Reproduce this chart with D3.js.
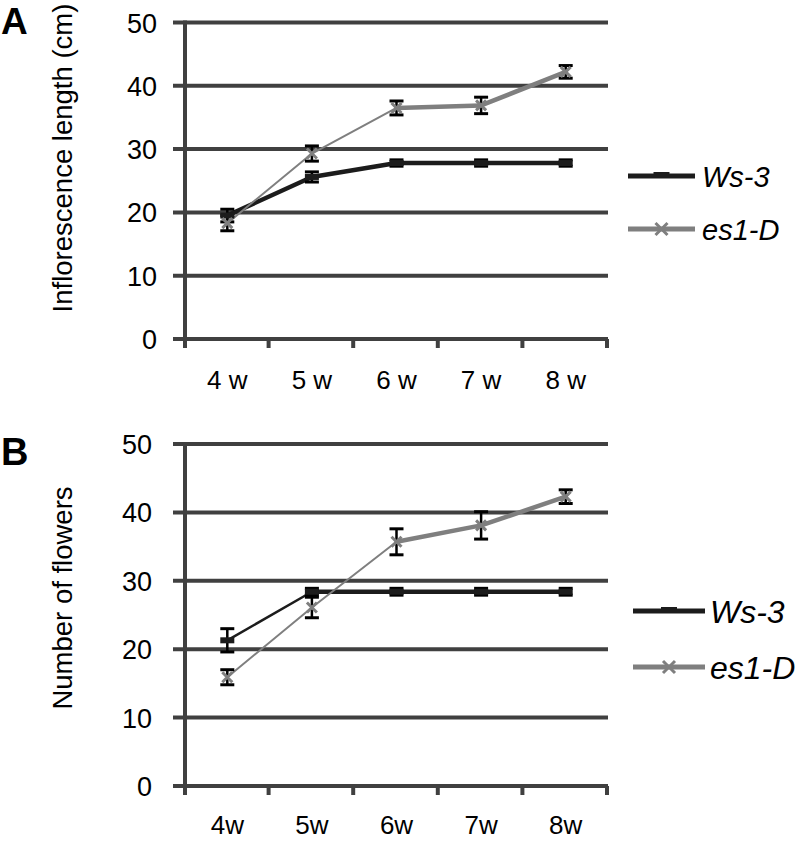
<!DOCTYPE html>
<html><head><meta charset="utf-8">
<script src="https://cdn.jsdelivr.net/npm/d3@7"></script>
<style>html,body{margin:0;padding:0;background:#fff;}svg{display:block;font-family:"Liberation Sans",Arial,sans-serif;}</style>
</head><body>
<script>
// ---- data ----
const catsA = ["4 w","5 w","6 w","7 w","8 w"];
const catsB = ["4w","5w","6w","7w","8w"];
const yTicks = [0,10,20,30,40,50];
const seriesNames = ["Ws-3","es1-D"];
const lengthWs3 = [19.5, 25.6, 27.8, 27.8, 27.8];
const lengthWs3Err = [1.0, 0.8, 0.5, 0.5, 0.5];
const lengthEs1 = [18.3, 29.3, 36.5, 36.9, 42.2];
const lengthEs1Err = [1.2, 1.2, 1.1, 1.3, 1.0];
const flowersWs3 = [21.3, 28.4, 28.4, 28.4, 28.4];
const flowersWs3Err = [1.7, 0.5, 0.5, 0.5, 0.5];
const flowersEs1 = [15.9, 26.1, 35.7, 38.1, 42.3];
const flowersEs1Err = [1.1, 1.5, 1.9, 2.0, 1.0];

// ---- styles ----
const colWs = "#1c1c1c", colEs = "#7f7f7f", colGrid = "#404040";
const W = 797, H = 842;
const svg = d3.select("body").append("svg").attr("width", W).attr("height", H);

function panel(o) {
  const g = svg.append("g");
  const x = d3.scaleBand().domain(o.cats).range([185, 608]);
  const y = d3.scaleLinear().domain([0, 50]).range(o.yRange);
  g.selectAll("line.grid").data(yTicks).enter().append("line")
    .attr("x1", 173).attr("x2", 608)
    .attr("y1", d => y(d)).attr("y2", d => y(d))
    .attr("stroke", colGrid).attr("stroke-width", 4);
  g.append("line").attr("x1", 185).attr("x2", 185)
    .attr("y1", y(50) - 2).attr("y2", y(0) + 9)
    .attr("stroke", colGrid).attr("stroke-width", 4);
  const bounds = o.cats.map(c => x(c)).concat([x(o.cats[o.cats.length-1]) + x.bandwidth()]);
  g.selectAll("line.xt").data(bounds.slice(1)).enter().append("line")
    .attr("x1", d => d - 1).attr("x2", d => d - 1)
    .attr("y1", y(0)).attr("y2", y(0) + 9)
    .attr("stroke", colGrid).attr("stroke-width", 4);
  g.selectAll("text.yl").data(yTicks).enter().append("text")
    .attr("x", o.yLabX).attr("y", d => y(d) + o.yLabDy)
    .attr("text-anchor", "end").attr("font-size", o.yFont).attr("fill", "#000")
    .text(d => d);
  g.selectAll("text.xl").data(o.cats).enter().append("text")
    .attr("x", d => x(d) + x.bandwidth() / 2).attr("y", o.xLabY)
    .attr("text-anchor", "middle").attr("font-size", o.xFont).attr("fill", "#000")
    .text(d => d);
  g.append("text").attr("transform", `translate(${o.titleX},${o.titleY}) rotate(-90)`)
    .attr("text-anchor", "middle").attr("font-size", o.titleFont).attr("fill", "#000")
    .text(o.title);
  g.append("text").attr("x", 1).attr("y", o.letterY).attr("font-size", o.letterFont)
    .attr("font-weight", "bold").attr("fill", "#000").text(o.letter);

  const cx = d => x(d) + x.bandwidth() / 2;
  function drawLine(vals, col, widths) {
    for (let i = 0; i < vals.length - 1; i++) {
      g.append("line").attr("x1", cx(o.cats[i])).attr("y1", y(vals[i]))
        .attr("x2", cx(o.cats[i+1])).attr("y2", y(vals[i+1]))
        .attr("stroke", col).attr("stroke-width", widths[i]).attr("stroke-linecap", "round");
    }
  }
  function drawErr(vals, errs) {
    vals.forEach((v, i) => {
      const c = cx(o.cats[i]);
      g.append("line").attr("x1", c).attr("x2", c).attr("y1", y(v - errs[i])).attr("y2", y(v + errs[i]))
        .attr("stroke", "#000").attr("stroke-width", 2.5);
      [v - errs[i], v + errs[i]].forEach(e => {
        g.append("line").attr("x1", c - 7).attr("x2", c + 7).attr("y1", y(e)).attr("y2", y(e))
          .attr("stroke", "#000").attr("stroke-width", 3);
      });
    });
  }
  drawLine(o.ws, colWs, o.wsW);
  drawLine(o.es, colEs, o.esW);
  drawErr(o.ws, o.wsE);
  drawErr(o.es, o.esE);
  o.ws.forEach((v, i) => {
    g.append("rect").attr("x", cx(o.cats[i]) - 7).attr("y", y(v) - 3).attr("width", 14).attr("height", 6).attr("fill", colWs);
  });
  const xm = (px, py, s) => `M${px-s},${py-s}L${px+s},${py+s}M${px-s},${py+s}L${px+s},${py-s}`;
  o.es.forEach((v, i) => {
    g.append("path").attr("d", xm(cx(o.cats[i]), y(v), 5)).attr("stroke", colEs).attr("stroke-width", 3).attr("fill", "none");
  });
  const lg = g.append("g");
  seriesNames.forEach((n, i) => {
    const ly = o.legY[i];
    const col = i === 0 ? colWs : colEs;
    lg.append("line").attr("x1", o.legX1).attr("x2", o.legX2).attr("y1", ly).attr("y2", ly)
      .attr("stroke", col).attr("stroke-width", 5);
    const mx = (o.legX1 + o.legX2) / 2;
    if (i === 0) {
      lg.append("rect").attr("x", mx - 8).attr("y", ly - 4).attr("width", 16).attr("height", 5).attr("fill", col);
    } else {
      lg.append("path").attr("d", xm(mx, ly, 6)).attr("stroke", col).attr("stroke-width", 3).attr("fill", "none");
    }
    lg.append("text").attr("x", o.legTX).attr("y", ly + o.legDy).attr("font-size", o.legFont)
      .attr("font-style", "italic").attr("fill", "#000").text(n);
  });
}

panel({
  cats: catsA, yRange: [339, 22.5], ws: lengthWs3, wsE: lengthWs3Err, es: lengthEs1, esE: lengthEs1Err,
  wsW: [4.5, 4.5, 4.5, 4.5], esW: [2, 2, 4.5, 4.5],
  yLabX: 157, yLabDy: 10, yFont: 27, xLabY: 389, xFont: 26,
  title: "Inflorescence length (cm)", titleX: 72, titleY: 158, titleFont: 27.5,
  letter: "A", letterY: 34, letterFont: 37,
  legY: [176, 229], legX1: 628, legX2: 695, legTX: 702, legDy: 11, legFont: 29
});
panel({
  cats: catsB, yRange: [786, 444], ws: flowersWs3, wsE: flowersWs3Err, es: flowersEs1, esE: flowersEs1Err,
  wsW: [2.5, 4.5, 4.5, 4.5], esW: [2, 2, 4.5, 4.5],
  yLabX: 152, yLabDy: 10, yFont: 27, xLabY: 834, xFont: 26,
  title: "Number of flowers", titleX: 72, titleY: 598, titleFont: 27.5,
  letter: "B", letterY: 465, letterFont: 38,
  legY: [611, 667], legX1: 633, legX2: 705, legTX: 710, legDy: 12, legFont: 32
});
</script>
</body></html>
